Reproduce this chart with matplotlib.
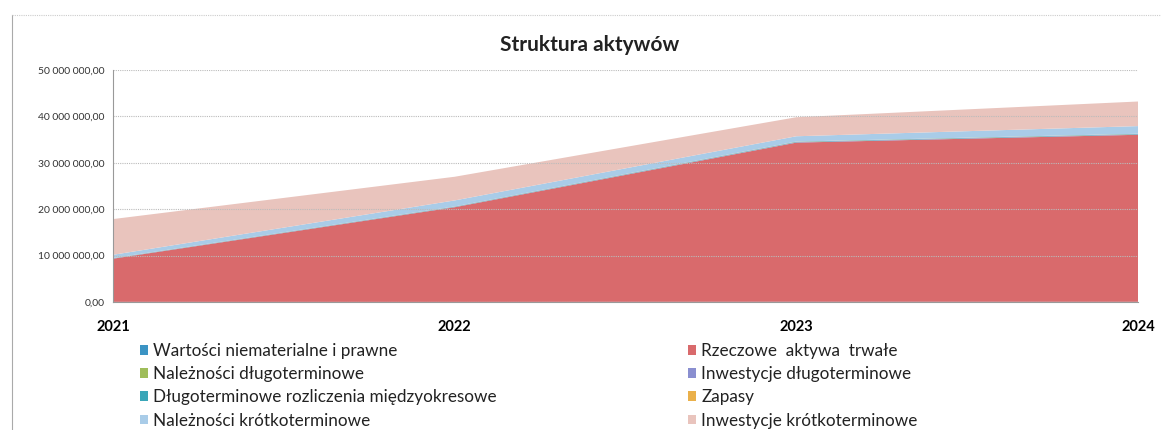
import numpy as np
import matplotlib
matplotlib.use("Agg")
import matplotlib.pyplot as plt
from matplotlib.patches import Patch
from matplotlib.lines import Line2D
from matplotlib.ticker import FuncFormatter

plt.rcParams["font.family"] = ["Lato", "DejaVu Sans"]

years = ["2021", "2022", "2023", "2024"]

# values in PLN
wartosci_niemat = [30000, 20000, 50000, 40000]
rzeczowe = [9300000, 20400000, 34300000, 36000000]
naleznosci_dl = [0, 0, 0, 0]
inwestycje_dl = [60000, 60000, 80000, 80000]
rozliczenia_dl = [50000, 80000, 100000, 100000]
zapasy = [30000, 30000, 40000, 40000]
naleznosci_kr = [700000, 1300000, 1150000, 1650000]
inwestycje_kr = [7700000, 5100000, 4100000, 5300000]

labels = [
    "Wartości niematerialne i prawne",
    "Rzeczowe  aktywa  trwałe",
    "Należności długoterminowe",
    "Inwestycje długoterminowe",
    "Długoterminowe rozliczenia międzyokresowe",
    "Zapasy",
    "Należności krótkoterminowe",
    "Inwestycje krótkoterminowe",
]
series = [wartosci_niemat, rzeczowe, naleznosci_dl, inwestycje_dl,
          rozliczenia_dl, zapasy, naleznosci_kr, inwestycje_kr]
colors = ["#3b94c4", "#d96a6c", "#9fbd5a", "#8a8fd0",
          "#3aa6b8", "#eab04a", "#a9cce8", "#e9c4bd"]

fig = plt.figure(figsize=(11.61, 4.30), dpi=100)
ax = fig.add_axes([0.0973, 0.2977, 0.8829, 0.5395])

x = np.arange(len(years))
ax.stackplot(x, *series, colors=colors, linewidth=0)

ax.set_xlim(0, len(years) - 1)
ax.set_ylim(0, 50000000)
ax.set_yticks(np.arange(0, 50000001, 10000000))


def pl_fmt(v, pos):
    s = f"{v:,.2f}"
    return s.replace(",", " ").replace(".", ",")


ax.yaxis.set_major_formatter(FuncFormatter(pl_fmt))
ax.set_xticks(x)
ax.set_xticklabels(years, fontweight="bold", fontsize=10.5)
ax.tick_params(axis="x", length=0, pad=13)
ax.tick_params(axis="y", length=0, pad=6, labelsize=7.5, labelcolor="#333333")

ax.grid(axis="y", color="#bbbbbb", linestyle=(0, (1, 1)), linewidth=0.8)
for gl in ax.get_ygridlines():
    gl.set_zorder(0.5)
for side in ["top", "right"]:
    ax.spines[side].set_visible(False)
ax.spines["left"].set_color("#999999")
ax.spines["bottom"].set_color("#999999")

fig.text(0.508, 0.895, "Struktura aktywów", ha="center", va="center",
         fontsize=15, fontweight="bold", color="#222222")

# chart frame (left and top edge visible in the scan)
fig.add_artist(Line2D([0.0103, 0.0103], [0.0, 0.965], color="#aaaaaa", lw=0.8))
fig.add_artist(Line2D([0.0103, 1.0], [0.965, 0.965], color="#cccccc", lw=0.8,
                      linestyle=(0, (1, 1))))

left_idx = [0, 2, 4, 6]
right_idx = [1, 3, 5, 7]
for idx, xpos in [(left_idx, 0.113), (right_idx, 0.585)]:
    handles = [Patch(facecolor=colors[i], edgecolor="none") for i in idx]
    fig.legend(handles, [labels[i] for i in idx], loc="upper left",
               bbox_to_anchor=(xpos, 0.222), frameon=False, fontsize=12.3,
               handlelength=0.5, handleheight=0.5, handletextpad=0.3,
               labelspacing=0.42, borderpad=0, labelcolor="#222222")

fig.savefig("out.png", dpi=100)
